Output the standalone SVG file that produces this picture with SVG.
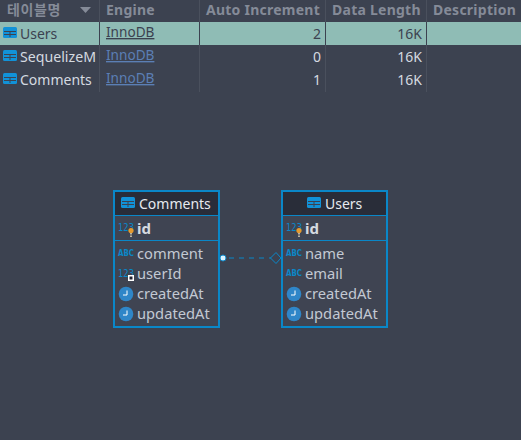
<svg xmlns="http://www.w3.org/2000/svg" width="521" height="440" viewBox="0 0 521 440">
<style>
text{font-family:"Noto Sans","DejaVu Sans",sans-serif;font-size:14px;fill:#d5dae0}
.h{font-weight:700;fill:#858b98;font-size:14px;letter-spacing:.25px}
.k{font-family:"Noto Sans CJK KR",sans-serif;letter-spacing:.6px}
.d{fill:#3c4250}
.l{fill:#5b7fb5;text-decoration:underline}
.i{font-size:13.600px}
.r{text-anchor:end}
.g{stroke:#4a505d;stroke-width:1}
.box{fill:#3f4452;stroke:#0a87c8;stroke-width:2}
.hd{fill:#292d39}
.sep{stroke:#0a87c8;stroke-width:1}
.f{fill:#c3c9d3;font-size:14.700px}
.b{font-weight:700;fill:#d5dae0;font-size:15px}
.t{fill:#e6e9ee}
.n{font-size:10.500px;fill:#0a87c8;font-family:"DejaVu Sans",sans-serif}
.a{font-size:8px;font-weight:700;fill:#0a87c8;font-family:"DejaVu Sans",sans-serif}
.ck{fill:#2f86c8}
.hn{fill:none;stroke:#fff;stroke-width:1}
.conn{fill:none;stroke:#0a87c8;stroke-width:1}
</style>
<defs>
<g id="tb"><rect x="0" y="0" width="14" height="11" rx="1.500" fill="#1192d8"/><path d="M1 4.500H13M1 7.500H13M7 4.500V10" stroke="#3c4250" stroke-width="1" fill="none"/></g>
<g id="clock"><circle cx="7" cy="7" r="7.300" class="ck"/><path class="hn" d="M8 3.500V8H4"/></g>
<g id="key"><circle cx="3" cy="2.500" r="2.600" fill="#e69a2e"/><path d="M3 5V10" stroke="#e8d9b8" stroke-width="1.500" stroke-dasharray="1.500 1"/></g>
</defs>
<rect width="521" height="440" fill="#3c4250"/>
<g id="grid">
<rect x="0" y="22" width="521" height="23" fill="#8fbcb5"/>
<path class="g" d="M99.500 0V92M199.500 0V92M325.500 0V92M426.500 0V92"/>
<path d="M99.500 22V45M199.500 22V45M325.500 22V45M426.500 22V45" stroke="#3c4250" fill="none"/>
<text class="h k" x="7" y="15">테이블명</text>
<path d="M80 7H91L85.500 13Z" fill="#858b98"/>
<text class="h" x="106" y="15">Engine</text>
<text class="h" x="206" y="15">Auto Increment</text>
<text class="h" x="332" y="15">Data Length</text>
<text class="h" x="433" y="15">Description</text>
<use href="#tb" x="3" y="27"/><text class="d" x="20" y="39">Users</text>
<text class="d i" x="106" y="37" style="text-decoration:underline">InnoDB</text>
<text class="d r" x="321" y="39">2</text><text class="d r" x="422" y="39">16K</text>
<use href="#tb" x="3" y="50"/><text x="20" y="62" textLength="76" lengthAdjust="spacingAndGlyphs">SequelizeM</text>
<text class="l i" x="106" y="60">InnoDB</text>
<text class="r" x="321" y="62">0</text><text class="r" x="422" y="62">16K</text>
<use href="#tb" x="3" y="73"/><text x="20" y="85">Comments</text>
<text class="l i" x="106" y="83">InnoDB</text>
<text class="r" x="321" y="85">1</text><text class="r" x="422" y="85">16K</text>
</g>
<g id="connectors">
<path class="conn" d="M229 258H271" stroke-dasharray="5 5"/>
<circle cx="223" cy="258" r="3" fill="#d8f2ff" stroke="#0a87c8"/>
<path class="conn" d="M270.500 258L276 252.500L281 258L276 263.500Z"/>
</g>
<g id="comments">
<rect class="box" x="114" y="191" width="105" height="136"/>
<rect class="hd" x="115" y="192" width="103" height="23"/>
<path class="sep" d="M114 215.500H219M114 240.500H219"/>
<use href="#tb" x="121" y="197"/>
<text class="t" x="139" y="209">Comments</text>
<text class="n" x="118" y="231" textLength="16" lengthAdjust="spacingAndGlyphs">123</text><use href="#key" x="128" y="228"/>
<text class="b" x="137" y="234">id</text>
<text class="a" x="118" y="256" textLength="16" lengthAdjust="spacingAndGlyphs">ABC</text><text class="f" x="137" y="259">comment</text>
<text class="n" x="118" y="277" textLength="16" lengthAdjust="spacingAndGlyphs">123</text><rect x="128" y="275" width="6" height="6" fill="#fff"/><rect x="129.500" y="276.500" width="3" height="3" fill="#223"/>
<text class="f" x="137" y="279">userId</text>
<use href="#clock" x="119" y="287"/><text class="f" x="137" y="299">createdAt</text>
<use href="#clock" x="119" y="307"/><text class="f" x="137" y="319">updatedAt</text>
</g>
<g id="users">
<rect class="box" x="282" y="191" width="105" height="136"/>
<rect class="hd" x="283" y="192" width="103" height="23"/>
<path class="sep" d="M282 215.500H387M282 240.500H387"/>
<use href="#tb" x="307" y="197"/>
<text class="t" x="325" y="209">Users</text>
<text class="n" x="286" y="231" textLength="16" lengthAdjust="spacingAndGlyphs">123</text><use href="#key" x="296" y="228"/>
<text class="b" x="305" y="234">id</text>
<text class="a" x="286" y="256" textLength="16" lengthAdjust="spacingAndGlyphs">ABC</text><text class="f" x="305" y="259">name</text>
<text class="a" x="286" y="276" textLength="16" lengthAdjust="spacingAndGlyphs">ABC</text><text class="f" x="305" y="279">email</text>
<use href="#clock" x="287" y="287"/><text class="f" x="305" y="299">createdAt</text>
<use href="#clock" x="287" y="307"/><text class="f" x="305" y="319">updatedAt</text>
</g>
</svg>
